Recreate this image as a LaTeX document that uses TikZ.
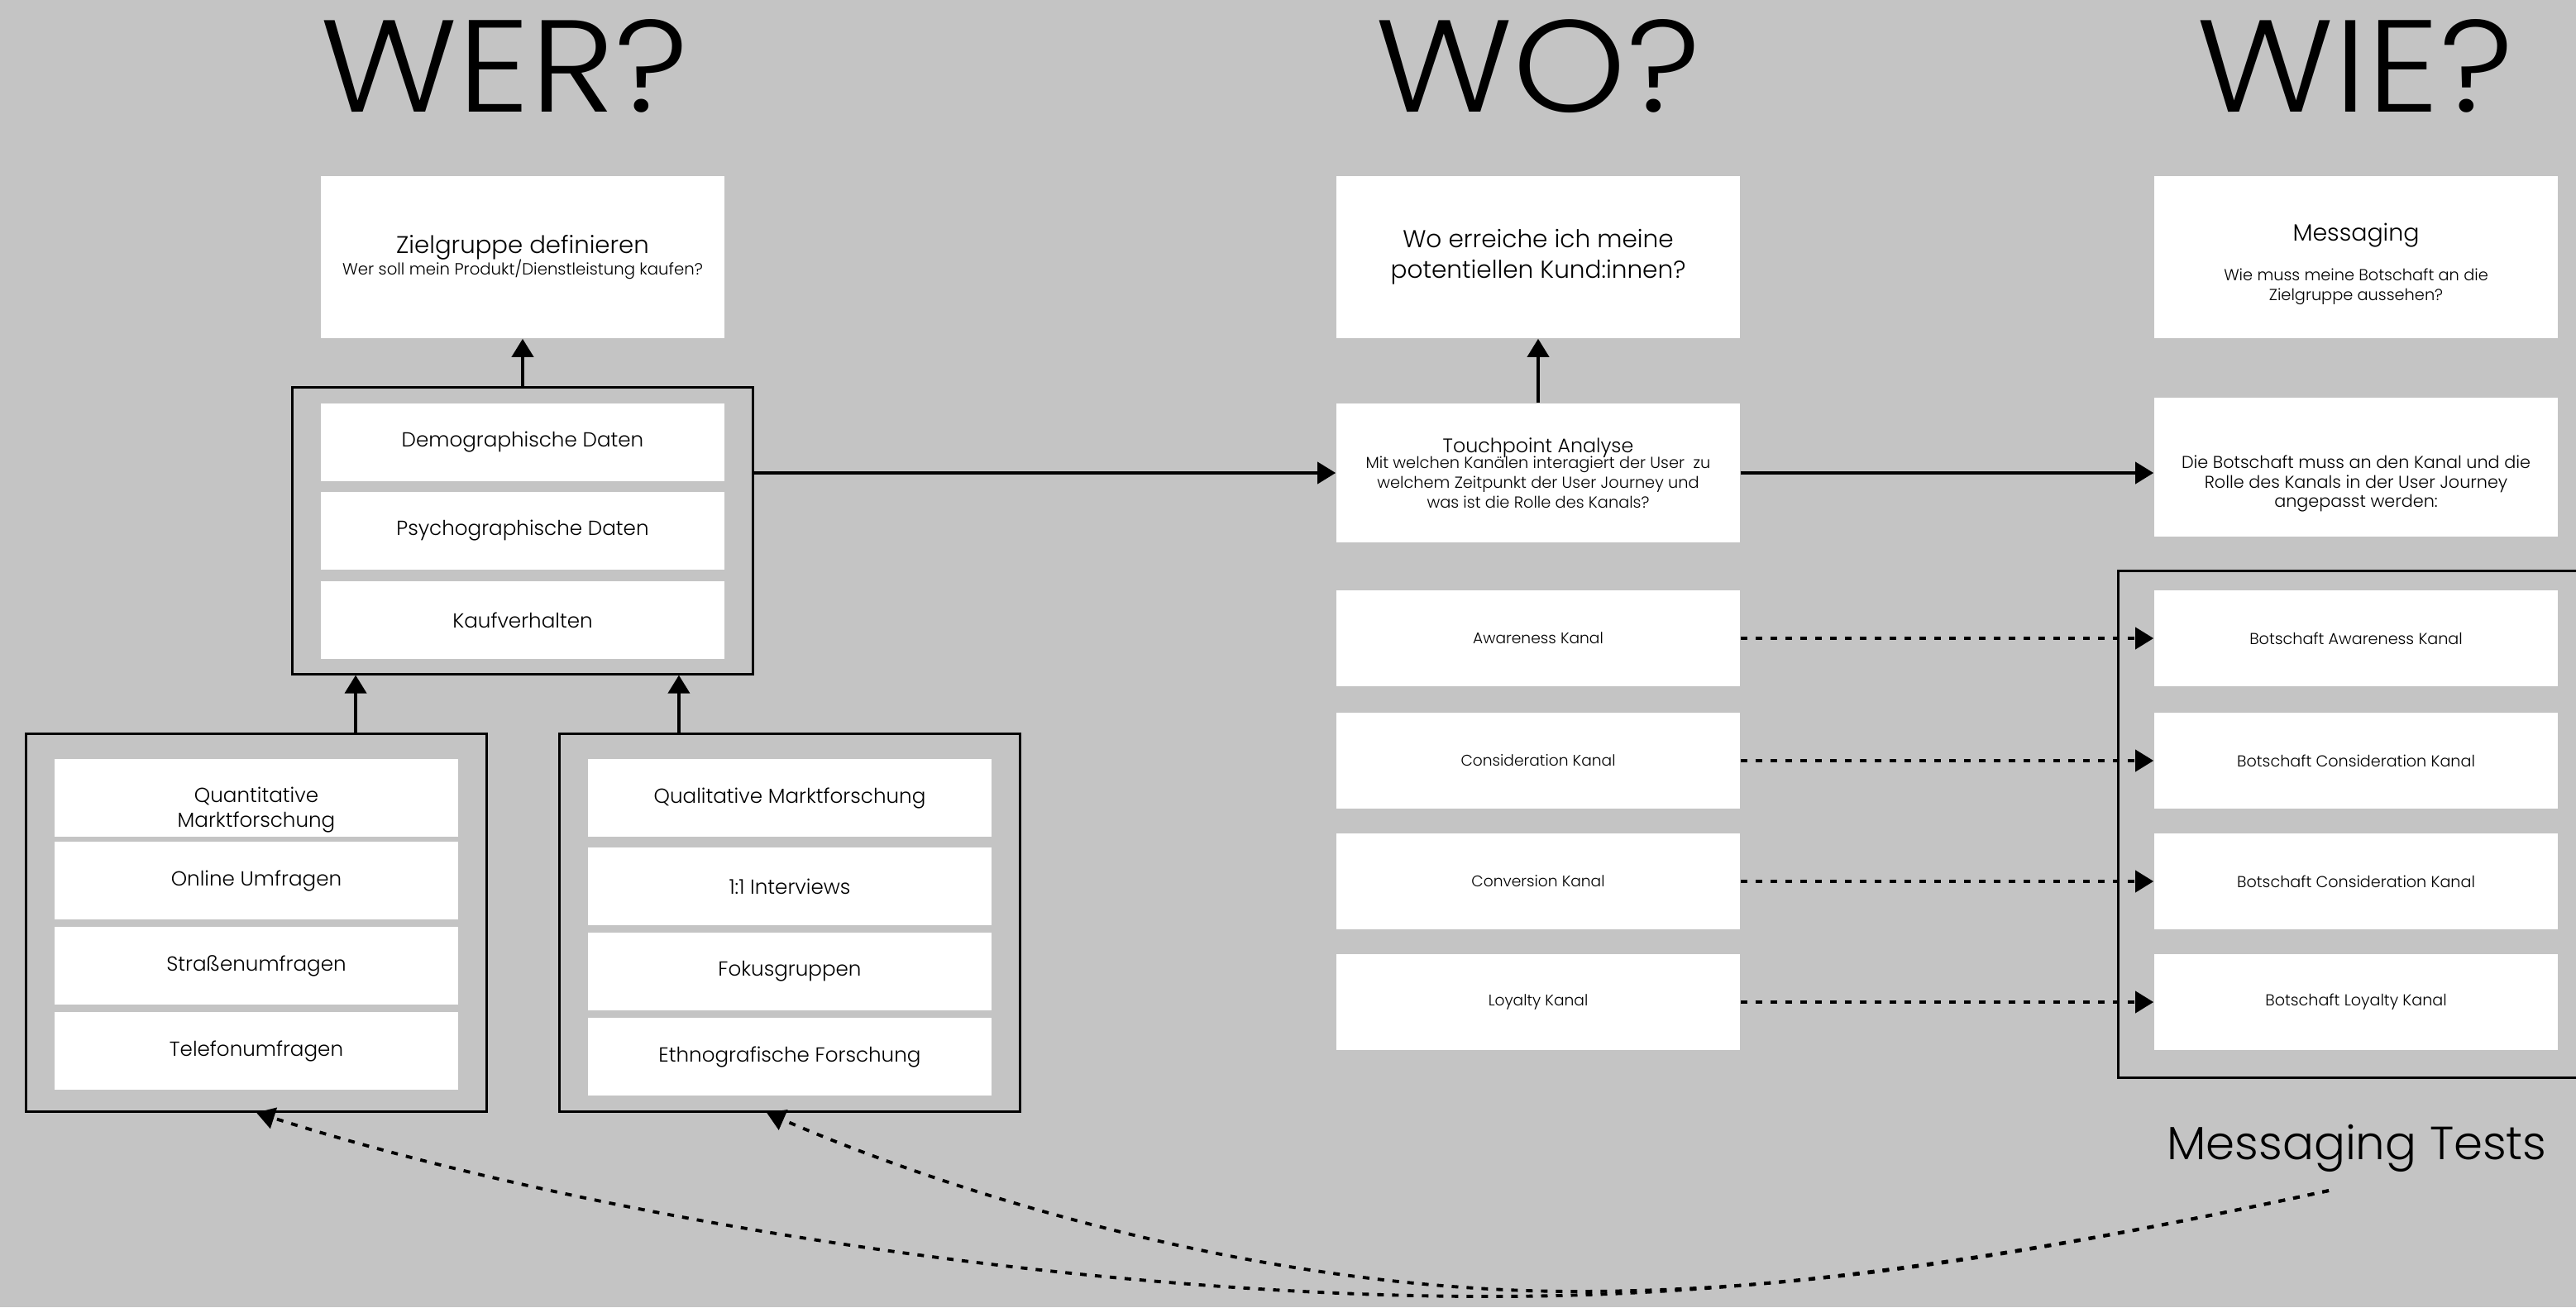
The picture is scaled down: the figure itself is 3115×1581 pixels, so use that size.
\documentclass[tikz,border=0pt]{standalone}
\usepackage{fontspec}
\setmainfont{Poppins}[UprightFont={* Light}]
\newfontfamily\headfont{Poppins}[UprightFont={* Light},FakeStretch=1.1]
\usetikzlibrary{arrows.meta}
\definecolor{canvas}{RGB}{196,196,196}

\begin{document}
\begin{tikzpicture}[x=0.01cm,y=-0.01cm,
  heading/.style={anchor=base,font=\headfont\fontsize{45}{50}\selectfont},
  card/.style={fill=white,minimum width=4.88cm,minimum height=0.94cm,inner sep=1pt,align=center,font=\fontsize{7}{8.5}\selectfont},
  headbox/.style={card,minimum height=1.96cm},
  infobox/.style={card,minimum height=1.68cm},
  kanal/.style={card,minimum height=1.15cm,font=\fontsize{5.3}{6.5}\selectfont},
  botkanal/.style={kanal,font=\fontsize{5.45}{6.5}\selectfont},
  group/.style={draw,line width=0.85pt,inner sep=0pt,minimum width=5.56cm},
  flow/.style={-{Triangle[length=0.22cm,width=0.26cm]},line width=1.1pt},
  dotflow/.style={flow,dash pattern=on 0.08cm off 0.1cm}]
  \useasboundingbox (0,0) rectangle (3115,1581);
  \clip (0,0) rectangle (3115,1581);
  \fill[canvas] (0,0) rectangle (3115,1581);
  % Headings
  \node[heading] (hwer) at (610,135) {WER?};
  \node[heading] (hwo) at (1860,135) {WO?};
  \node[heading] (hwie) at (2848,135) {WIE?};
  % WER? column
  \node[headbox,font=\fontsize{5.6}{6.8}\selectfont] (zg) at (632,311) {\fontsize{8.3}{9}\selectfont Zielgruppe definieren\\[-1pt]
    Wer soll mein Produkt/Dienstleistung kaufen?};
  \node[group,minimum height=3.46cm] (merkmale) at (632,642) {};
  \node[card] (demo) at (632,535) {Demographische Daten};
  \node[card] (psycho) at (632,642) {Psychographische Daten};
  \node[card] (kauf) at (632,750) {Kaufverhalten};
  \node[group,minimum height=4.56cm] (quant) at (310,1116) {};
  \node[card] (quanttitle) at (310,965) {\mbox{}\\[5pt]Quantitative\\Marktforschung};
  \node[card] (online) at (310,1065) {Online Umfragen};
  \node[card] (strasse) at (310,1168) {Straßenumfragen};
  \node[card] (telefon) at (310,1271) {Telefonumfragen};
  \node[group,minimum height=4.56cm] (qual) at (955,1116) {};
  \node[card] (qualtitle) at (955,965) {Qualitative Marktforschung};
  \node[card] (interviews) at (955,1072) {1:1 Interviews};
  \node[card] (fokus) at (955,1175) {Fokusgruppen};
  \node[card] (ethno) at (955,1278) {Ethnografische Forschung};
  % WO? column
  \node[headbox,font=\fontsize{8.4}{10.5}\selectfont] (wo) at (1860,311) {Wo erreiche ich meine\\potentiellen Kund:innen?};
  \node[infobox,font=\fontsize{5.5}{6.8}\selectfont] (tp) at (1860,572) {\fontsize{6.75}{8}\selectfont Touchpoint Analyse\\[-1.5pt]
    Mit welchen Kanälen interagiert der User\ \ zu\\welchem Zeitpunkt der User Journey und\\was ist die Rolle des Kanals?};
  \node[kanal] (kaware) at (1860,772) {Awareness Kanal};
  \node[kanal] (kconsid) at (1860,920) {Consideration Kanal};
  \node[kanal] (kconv) at (1860,1066) {Conversion Kanal};
  \node[kanal] (kloyal) at (1860,1212) {Loyalty Kanal};
  % WIE? column
  \node[headbox,font=\fontsize{5.5}{6.8}\selectfont] (msg) at (2849,311) {\mbox{}\\[4pt]\fontsize{8.1}{9}\selectfont Messaging\\[7pt]
    Wie muss meine Botschaft an die\\Zielgruppe aussehen?};
  \node[infobox,font=\fontsize{5.9}{6.8}\selectfont] (botintro) at (2849,565) {\mbox{}\\[9pt]Die Botschaft muss an den Kanal und die\\Rolle des Kanals in der User Journey\\angepasst werden:};
  \node[group,minimum width=5.78cm,minimum height=6.13cm] (botbox) at (2851,997) {};
  \node[botkanal] (baware) at (2849,772) {Botschaft Awareness Kanal};
  \node[botkanal] (bconsid) at (2849,920) {Botschaft Consideration Kanal};
  \node[botkanal] (bconv) at (2849,1066) {Botschaft Consideration Kanal};
  \node[botkanal] (bloyal) at (2849,1212) {Botschaft Loyalty Kanal};
  \node[anchor=base,font=\fontsize{16}{18}\selectfont] (mtests) at (2850,1402) {Messaging Tests};
  % Arrows
  \coordinate (qa) at ([xshift=1.2cm]quant.north);
  \coordinate (qb) at ([xshift=-1.34cm]qual.north);
  \draw[flow] (qa) -- (qa |- merkmale.south);
  \draw[flow] (qb) -- (qb |- merkmale.south);
  \draw[flow] (merkmale.north) -- (zg.south);
  \draw[flow] (merkmale.east |- tp.west) -- (tp.west);
  \draw[flow] (tp.north) -- (wo.south);
  \draw[flow] (tp.east) -- (tp.east -| botintro.west);
  \foreach \k in {aware,consid,conv,loyal} \draw[dotflow] (k\k.east) -- (b\k.west);
  % Messaging tests feedback
  \coordinate (tstart) at (2816,1440);
  \coordinate (qualend) at ([xshift=-0.28cm]qual.south);
  \draw[dotflow] (tstart) .. controls (2400,1530) and (2100,1568) .. (1800,1568) .. controls (1300,1568) and (700,1470) .. (quant.south);
  \draw[dotflow] (tstart) .. controls (2400,1530) and (2150,1562) .. (1900,1562) .. controls (1500,1560) and (1120,1430) .. (qualend);
\end{tikzpicture}
\end{document}
